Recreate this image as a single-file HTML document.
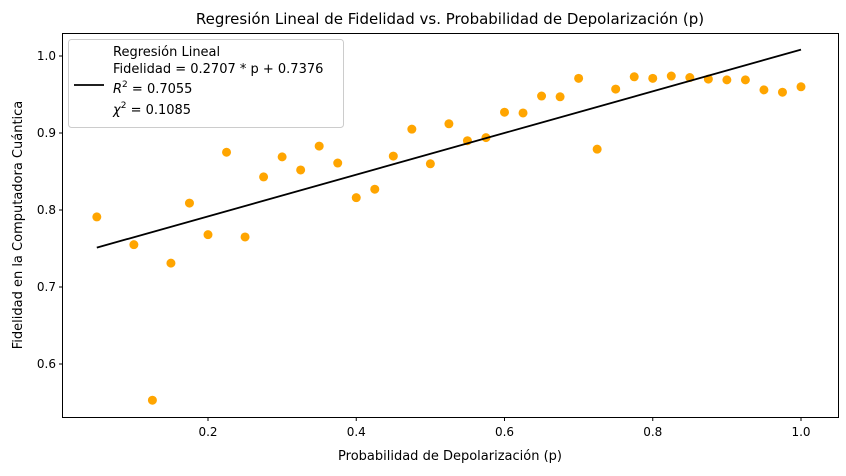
<!DOCTYPE html>
<html><head><meta charset="utf-8">
<style>
body{margin:0;background:#fff;width:846px;height:471px;overflow:hidden;font-family:"Liberation Sans","DejaVu Sans",sans-serif;}
svg text{font-family:"DejaVu Sans","Liberation Sans",sans-serif;}
</style></head>
<body>
<svg id="chart" width="846" height="471" xmlns="http://www.w3.org/2000/svg">
<rect x="0" y="0" width="846" height="471" fill="#fff"/>
<text x="450" y="24" font-size="15" text-anchor="middle" fill="#000">Regresión Lineal de Fidelidad vs. Probabilidad de Depolarización (p)</text>
<g id="marks"></g>
<rect x="62.5" y="33.5" width="776" height="384" fill="none" stroke="#000" stroke-width="1"/>
<g id="xticks"></g><g id="yticks"></g>
<text x="450" y="460" font-size="13" text-anchor="middle">Probabilidad de Depolarización (p)</text>
<text transform="translate(22,225) rotate(-90)" font-size="13" text-anchor="middle">Fidelidad en la Computadora Cuántica</text>
<g>
<rect x="68.5" y="39.5" width="275" height="88" rx="3" fill="#fff" fill-opacity="0.8" stroke="#ccc"/>
<line x1="74" y1="85" x2="104" y2="85" stroke="#000" stroke-width="1.8"/>
<text x="113" y="56" font-size="13">Regresión Lineal</text>
<text x="113" y="73" font-size="13">Fidelidad = 0.2707 * p + 0.7376</text>
<text x="113" y="93" font-size="13"><tspan font-style="italic">R</tspan><tspan font-size="9" dy="-6">2</tspan><tspan dy="6"> = 0.7055</tspan></text>
<text x="113" y="114" font-size="13"><tspan font-style="italic">χ</tspan><tspan font-size="9" dy="-6">2</tspan><tspan dy="6"> = 0.1085</tspan></text>
</g>
</svg>
<script>
const pValues=[0.05,0.1,0.125,0.15,0.175,0.2,0.225,0.25,0.275,0.3,0.325,0.35,0.375,0.4,0.425,0.45,0.475,0.5,0.525,0.55,0.575,0.6,0.625,0.65,0.675,0.7,0.725,0.75,0.775,0.8,0.825,0.85,0.875,0.9,0.925,0.95,0.975,1.0];
const fidelity=[0.791,0.755,0.553,0.731,0.809,0.768,0.875,0.765,0.843,0.869,0.852,0.883,0.861,0.816,0.827,0.870,0.905,0.860,0.912,0.890,0.894,0.927,0.926,0.948,0.947,0.971,0.879,0.957,0.973,0.971,0.974,0.972,0.970,0.969,0.969,0.956,0.953,0.960];
const slope=0.2707, intercept=0.7376;
const xTicks=[0.2,0.4,0.6,0.8,1.0];
const yTicks=[0.6,0.7,0.8,0.9,1.0];
const NS="http://www.w3.org/2000/svg";
function xs(v){return 208+(v-0.2)*741.25;}
function ys(v){return 56+(1.0-v)*770;}
function mk(t,a,parent){const e=document.createElementNS(NS,t);for(const k in a)e.setAttribute(k,a[k]);parent.appendChild(e);return e;}
const marks=document.getElementById('marks');
pValues.forEach((p,i)=>{
  const c=mk('circle',{cx:xs(p),cy:ys(fidelity[i]),r:4.5,fill:'#ffa500'},marks);
  
  
});
const p0=pValues[0],p1=pValues[pValues.length-1];
const ln=mk('line',{x1:xs(p0),y1:ys(slope*p0+intercept),x2:xs(p1),y2:ys(slope*p1+intercept),stroke:'#000','stroke-width':1.8},marks);


const xg=document.getElementById('xticks');
xTicks.forEach(v=>{
  const x=xs(v);
  const t=mk('line',{x1:x,y1:417.5,x2:x,y2:421,stroke:'#000'},xg);
  
  
  const l=mk('text',{x:x,y:436,'font-size':12,'text-anchor':'middle'},xg);
  l.textContent=v.toFixed(1);
  
  
});
const yg=document.getElementById('yticks');
yTicks.forEach(v=>{
  const y=ys(v);
  const t=mk('line',{x1:59,y1:y,x2:62.5,y2:y,stroke:'#000'},yg);
  
  
  const l=mk('text',{x:56,y:y+4,'font-size':12,'text-anchor':'end'},yg);
  l.textContent=v.toFixed(1);
  
  
});
</script>
</body></html>
